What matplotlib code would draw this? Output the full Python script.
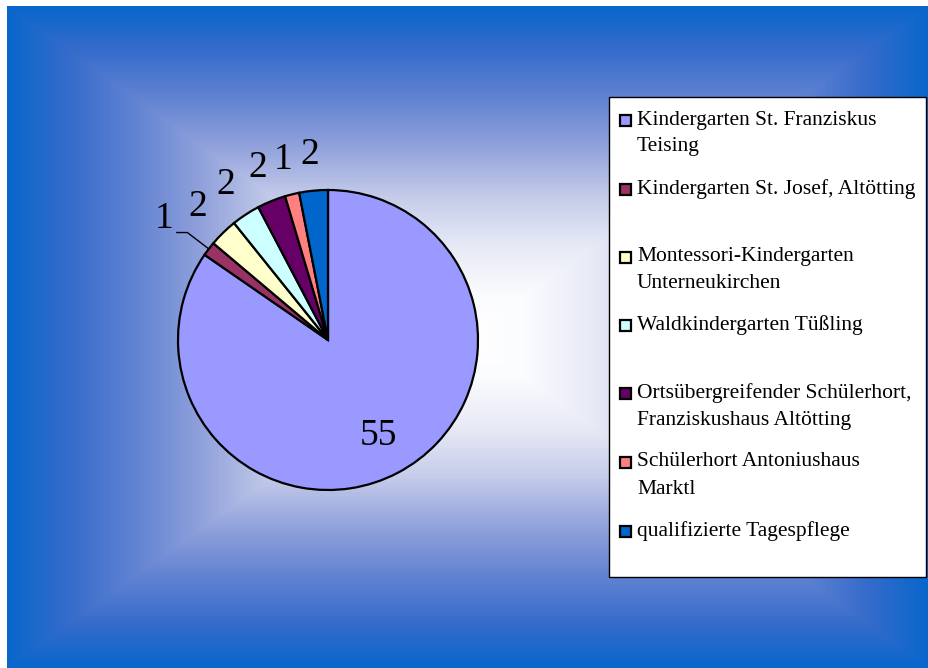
import numpy as np
import matplotlib
matplotlib.use("Agg")
import matplotlib.pyplot as plt
from matplotlib.colors import LinearSegmentedColormap
from matplotlib.patches import Rectangle

# data
names = ["Kindergarten St. Franziskus\nTeising",
         "Kindergarten St. Josef, Altötting",
         "Montessori-Kindergarten\nUnterneukirchen",
         "Waldkindergarten Tüßling",
         "Ortsübergreifender Schülerhort,\nFranziskushaus Altötting",
         "Schülerhort Antoniushaus\nMarktl",
         "qualifizierte Tagespflege"]
counts = [55, 1, 2, 2, 2, 1, 2]
colors = ["#9999FF", "#993366", "#FFFFCC", "#CCFFFF", "#660066", "#FF8080", "#0066CC"]

W, H = 929, 668
fig = plt.figure(figsize=(W / 100, H / 100), dpi=100)
fig.patch.set_facecolor("white")

# background with rectangular gradient (from center)
bg = fig.add_axes([0, 0, 1, 1])
bg.set_xlim(0, W)
bg.set_ylim(H, 0)
bg.axis("off")
x0, y0, x1, y1 = 7, 6, W, H
cx, cy = (x0 + x1) / 2, (y0 + y1) / 2
xx, yy = np.meshgrid(np.arange(x0, x1) + 0.5, np.arange(y0, y1) + 0.5)
t = np.maximum(np.abs(xx - cx) / ((x1 - x0) / 2), np.abs(yy - cy) / ((y1 - y0) / 2))
grad = LinearSegmentedColormap.from_list("bgrad", [
    (0.0, "#ffffff"), (0.12, "#fbfcfe"), (0.27, "#e8eaf6"), (0.42, "#c6cdea"),
    (0.57, "#93a3dc"), (0.72, "#6283d2"), (0.87, "#356bcb"), (1.0, "#0866cc")])
bg.imshow(grad(np.clip(t, 0, 1)), extent=(x0, x1, y1, y0), aspect="auto",
          interpolation="bilinear")

# legend drawn by hand
bg.add_patch(Rectangle((609, 97), 317, 480, facecolor="white", edgecolor="black", lw=1.0))
rows = [120, 189, 257, 325, 393, 462, 531]
for name, col, ry in zip(names, colors, rows):
    bg.add_patch(Rectangle((620, ry - 5.5), 11, 11, facecolor=col, edgecolor="black", lw=1.6))
    for k, line in enumerate(name.split("\n")):
        bg.text(637, ry + 27 * k, line, family="Liberation Serif", fontsize=15.5,
                ha="left", va="center")

# pie
pcx, pcy, r = 328, 340, 150
ax = fig.add_axes([(pcx - 1.5 * r) / W, (H - pcy - 1.5 * r) / H, 3 * r / W, 3 * r / H])
wedges, _ = ax.pie(counts, colors=colors, startangle=90, counterclock=False,
                   wedgeprops=dict(edgecolor="black", linewidth=1.6))
ax.set_xlim(-1.5, 1.5)
ax.set_ylim(-1.5, 1.5)
ax.axis("off")

lab_font = dict(family="Liberation Serif", fontsize=27)
for i, (w, v) in enumerate(zip(wedges, counts)):
    mid = np.deg2rad((w.theta1 + w.theta2) / 2)
    if i == 0:
        ax.text(0.72 * np.cos(mid), 0.72 * np.sin(mid), str(v), ha="center", va="center", **lab_font)
    elif i == 1:
        ex, ey = 1.18 * np.cos(mid), 1.18 * np.sin(mid)
        ax.plot([np.cos(mid), ex, ex - 0.07], [np.sin(mid), ey, ey], color="black", lw=1)
        ax.text(ex - 0.09, ey - 0.02, str(v), ha="right", va="bottom", **lab_font)
    else:
        ax.text(1.24 * np.cos(mid), 1.24 * np.sin(mid), str(v), ha="center", va="center", **lab_font)

fig.savefig("out.png", dpi=100)
